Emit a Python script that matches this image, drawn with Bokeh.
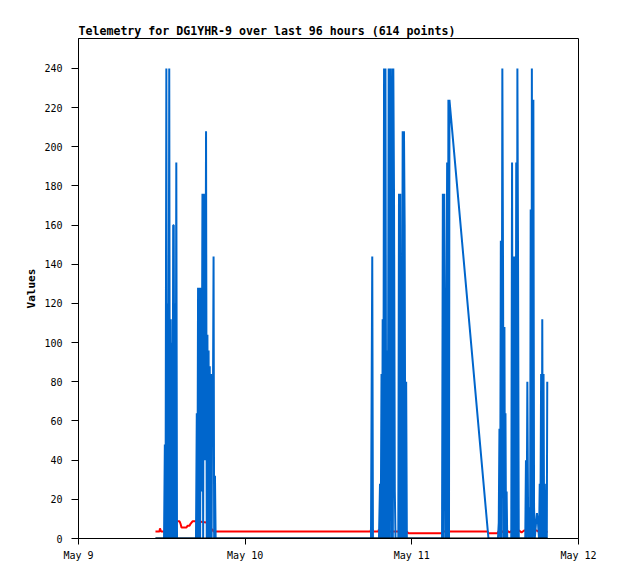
import pandas as pd
from bokeh.plotting import figure
from bokeh.models import Range1d, FixedTicker, CustomJSTickFormatter
from bokeh.embed import file_html
from bokeh.resources import INLINE

TITLE = "Telemetry for DG1YHR-9 over last 96 hours (614 points)"
START = "2024-05-09 00:00"

# x tick dates (axis spans May 9 -> May 12)
x_ticks = ["2024-05-09", "2024-05-10", "2024-05-11", "2024-05-12"]
y_ticks = [0, 20, 40, 60, 80, 100, 120, 140, 160, 180, 200, 220, 240]

# blue series: minutes after START, values
blue_min = [
    665, 739, 746, 752, 759, 765, 771, 777, 784, 790, 797, 803, 808, 813, 818, 823, 829, 834, 839, 845, 851,
    1015, 1022, 1027, 1033, 1039, 1045, 1051, 1057, 1063, 1071, 1077, 1083, 1090, 1095, 1102, 1108, 1114,
    1119, 1124, 1129, 1134, 1140, 1145, 1150, 1155, 1160, 1167, 1172, 1179, 1185,
    2527, 2538, 2544,
    2596, 2605, 2611, 2618, 2623, 2628, 2633, 2640, 2646, 2652, 2659, 2666, 2672, 2680, 2686, 2692, 2698,
    2704, 2710, 2716, 2720, 2726, 2733, 2739, 2763, 2769, 2775, 2780, 2786, 2793, 2801, 2807, 2812, 2818,
    2824, 2831, 2837,
    3141, 3148, 3154, 3160, 3167, 3173, 3178, 3185, 3190, 3196, 3201, 3205, 3542,
    3624, 3631, 3637, 3643, 3649, 3655, 3662, 3668, 3674, 3680, 3685, 3689, 3694, 3699, 3704,
    3739, 3746, 3752, 3758, 3764, 3770, 3776, 3782, 3787, 3792, 3798, 3804,
    3860, 3866, 3872, 3878, 3884, 3890, 3896, 3902, 3907, 3914, 3917, 3924, 3930, 3936, 3942, 3953, 3961,
    3970, 3979, 3985, 3990, 3997, 4002, 4007, 4012, 4018, 4023, 4029, 4035, 4046, 4050,
]
blue_val = [
    0, 0, 48, 0, 240, 0, 120, 0, 240, 0, 112, 0, 100, 0, 160, 160, 0, 120, 0, 192, 0,
    0, 64, 0, 128, 0, 128, 0, 128, 24, 176, 0, 176, 156, 40, 208, 0, 104,
    0, 96, 0, 88, 0, 84, 0, 80, 48, 144, 0, 32, 0,
    0, 144, 0,
    0, 28, 0, 84, 0, 112, 0, 240, 0, 240, 0, 96, 0, 240, 0, 240, 192,
    0, 240, 0, 240, 176, 24, 0, 0, 176, 0, 176, 0, 0, 208, 0, 208, 160,
    0, 80, 0,
    0, 176, 0, 176, 80, 0, 80, 192, 0, 224, 0, 224, 0,
    0, 8, 56, 0, 152, 0, 240, 136, 0, 108, 0, 64, 0, 24, 0,
    0, 192, 0, 144, 0, 144, 0, 192, 0, 240, 136, 0,
    0, 40, 0, 80, 16, 0, 16, 0, 168, 0, 240, 0, 224, 16, 0, 8, 13,
    8, 0, 28, 0, 84, 0, 112, 0, 84, 0, 28, 0, 0, 80,
]

# red series
red_min = [
    665, 700, 704, 713, 743, 855, 873, 881, 890, 933, 942, 959, 968, 985, 1020, 1123, 1132, 1158, 1166,
    2523, 2527, 2540, 2544, 2592, 2595, 2601, 2834, 2851, 3145, 3154, 3534, 3542, 3620, 3629,
    3646, 3672, 3698, 3724, 3750, 3776, 3802, 3828, 3853, 3879, 3905, 3931, 3957, 3983, 4009, 4035, 4052,
]
red_val = [
    3.6, 3.6, 5.2, 3.6, 3.6, 8.8, 8.8, 7.6, 5.6, 5.6, 6.5, 6.5, 7.5, 8.8, 8.8, 8.0, 4.6, 4.6, 3.6,
    3.6, 4.6, 4.6, 3.6, 3.6, 4.6, 3.6, 3.6, 2.7, 2.7, 3.6, 3.6, 2.7, 2.7, 3.6,
    4.2, 3.1, 4.2, 3.1, 4.2, 3.1, 4.2, 3.1, 4.2, 3.1, 4.2, 3.1, 4.2, 3.1, 4.2, 3.1, 3.6,
]

# black series
black_min = [665, 4052]
black_val = [0, 0]

base = pd.Timestamp(START)


def to_dt(mins):
    return [base + pd.Timedelta(minutes=m) for m in mins]


tick_ms = [pd.Timestamp(t).value // 10**6 for t in x_ticks]

p = figure(
    width=610, height=568,
    x_axis_type="datetime",
    x_range=Range1d(pd.Timestamp(x_ticks[0]), pd.Timestamp(x_ticks[-1])),
    y_range=Range1d(0, 255.3),
    output_backend="svg", toolbar_location=None,
    min_border_left=78, min_border_right=32, min_border_top=38, min_border_bottom=30,
    title=TITLE,
)
p.background_fill_color = "white"
p.border_fill_color = "white"
p.outline_line_color = "black"
p.outline_line_width = 1
p.xgrid.visible = False
p.ygrid.visible = False

p.title.text_font = "DejaVu Sans Mono"
p.title.text_font_size = "11.6px"
p.title.text_font_style = "bold"
p.title.text_color = "black"
p.title.align = "left"
p.title.offset = 0
p.title.standoff = 1

p.line(to_dt(red_min), red_val, line_color="#ff0000", line_width=2)
p.line(to_dt(blue_min), blue_val, line_color="#0066cc", line_width=2)
p.line(to_dt(black_min), black_val, line_color="#000000", line_width=2)

for ax in (p.xaxis[0], p.yaxis[0]):
    ax.axis_line_color = "black"
    ax.major_tick_line_color = "black"
    ax.minor_tick_line_color = None
    ax.major_tick_in = 0
    ax.major_label_text_font = "DejaVu Sans Mono"
    ax.major_label_text_font_size = "10px"
    ax.major_label_text_color = "black"

p.xaxis.ticker = FixedTicker(ticks=tick_ms)
p.xaxis.formatter = CustomJSTickFormatter(code="""
const m = ['Jan','Feb','Mar','Apr','May','Jun','Jul','Aug','Sep','Oct','Nov','Dec'];
const d = new Date(tick);
return m[d.getUTCMonth()] + ' ' + d.getUTCDate();
""")
p.xaxis.major_tick_out = 6
p.xaxis.major_label_standoff = 5

p.yaxis.ticker = FixedTicker(ticks=y_ticks)
p.yaxis.major_tick_out = 7
p.yaxis.major_label_standoff = 9
p.yaxis.axis_label = "Values"
p.yaxis.axis_label_text_font = "DejaVu Sans Mono"
p.yaxis.axis_label_text_font_size = "11px"
p.yaxis.axis_label_text_font_style = "bold"
p.yaxis.axis_label_text_color = "black"
p.yaxis.axis_label_standoff = 3

open("out.html", "w").write(file_html(p, INLINE))
